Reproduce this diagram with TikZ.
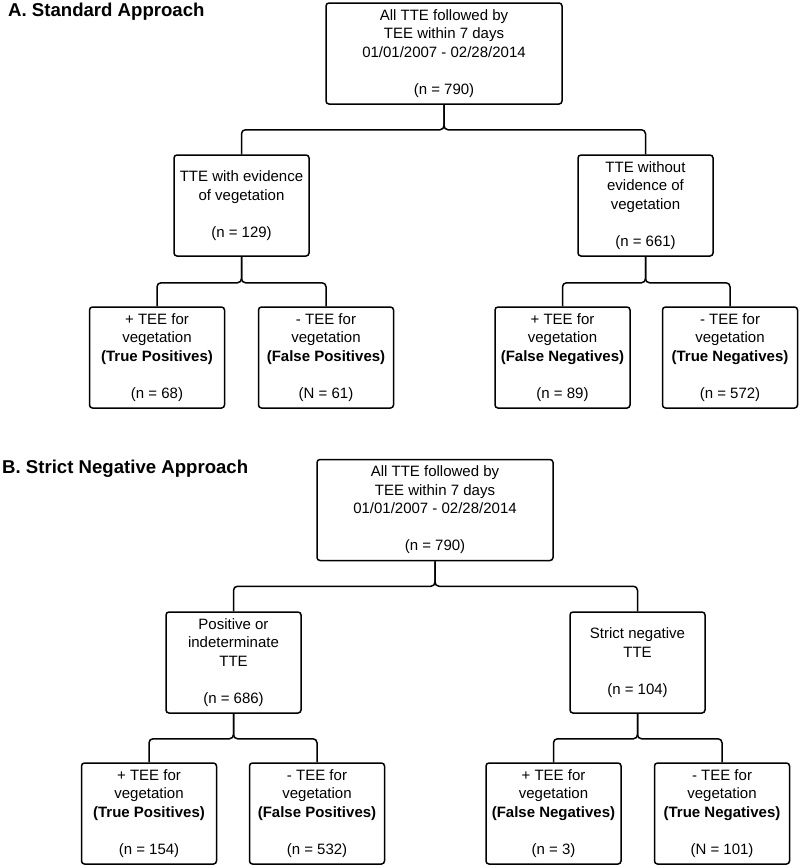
\documentclass[tikz,border=0pt]{standalone}
\usepackage{fontspec}
\setmainfont{Liberation Sans}
\begin{document}
\begin{tikzpicture}[x=1pt,y=-1pt,
  box/.style={draw, line width=1.5pt, rounded corners=3pt, align=center,
    font=\fontsize{15}{18.5}\selectfont, inner sep=0pt, minimum height=101pt},
  wide/.style={box, minimum width=236pt},
  narrow/.style={box, minimum width=135pt},
  conn/.style={line width=1.5pt, rounded corners=4pt},
  ttl/.style={anchor=base west, inner sep=0pt, font=\fontsize{18.6}{22}\selectfont\bfseries}]
\useasboundingbox (0,0) rectangle (800,868);

% ---------- A ----------
\node[ttl] (ta) at (8,16) {A. Standard Approach};
\node[wide] (a0) at (444,53.5) {All TTE followed by\\TEE within 7 days\\01/01/2007 - 02/28/2014\\[18.5pt](n = 790)};
\node[narrow] (a1) at (241.5,205.5) {TTE with evidence\\of vegetation\\[18.5pt](n = 129)};
\node[narrow] (a2) at (645.5,205.5) {TTE without\\evidence of\\vegetation\\[18.5pt](n = 661)};
\node[narrow] (a11) at (157,357.5) {+ TEE for\\vegetation\\\textbf{(True Positives)}\\[18.5pt](n = 68)};
\node[narrow] (a12) at (326,357.5) {- TEE for\\vegetation\\\textbf{(False Positives)}\\[18.5pt](N = 61)};
\node[narrow] (a21) at (562.5,357.5) {+ TEE for\\vegetation\\\textbf{(False Negatives)}\\[18.5pt](n = 89)};
\node[narrow] (a22) at (730,357.5) {- TEE for\\vegetation\\\textbf{(True Negatives)}\\[18.5pt](n = 572)};

\draw[conn] (a0.south) -- ++(0,25) -| (a1.north);
\draw[conn] (a0.south) -- ++(0,25) -| (a2.north);
\draw[conn] (a1.south) -- ++(0,26) -| (a11.north);
\draw[conn] (a1.south) -- ++(0,26) -| (a12.north);
\draw[conn] (a2.south) -- ++(0,26) -| (a21.north);
\draw[conn] (a2.south) -- ++(0,26) -| (a22.north);

% ---------- B ----------
\node[ttl] (tb) at (2,473) {B. Strict Negative Approach};
\node[wide] (b0) at (435,510) {All TTE followed by\\TEE within 7 days\\01/01/2007 - 02/28/2014\\[18.5pt](n = 790)};
\node[narrow] (b1) at (233.5,662.5) {Positive or\\indeterminate\\TTE\\[18.5pt](n = 686)};
\node[narrow] (b2) at (637.5,662.5) {Strict negative\\TTE\\[18.5pt](n = 104)};
\node[narrow] (b11) at (149,813.5) {+ TEE for\\vegetation\\\textbf{(True Positives)}\\[18.5pt](n = 154)};
\node[narrow] (b12) at (317,813.5) {- TEE for\\vegetation\\\textbf{(False Positives)}\\[18.5pt](n = 532)};
\node[narrow] (b21) at (553.5,813.5) {+ TEE for\\vegetation\\\textbf{(False Negatives)}\\[18.5pt](n = 3)};
\node[narrow] (b22) at (722,813.5) {- TEE for\\vegetation\\\textbf{(True Negatives)}\\[18.5pt](N = 101)};

\draw[conn] (b0.south) -- ++(0,25) -| (b1.north);
\draw[conn] (b0.south) -- ++(0,25) -| (b2.north);
\draw[conn] (b1.south) -- ++(0,25) -| (b11.north);
\draw[conn] (b1.south) -- ++(0,25) -| (b12.north);
\draw[conn] (b2.south) -- ++(0,25) -| (b21.north);
\draw[conn] (b2.south) -- ++(0,25) -| (b22.north);
\end{tikzpicture}
\end{document}
